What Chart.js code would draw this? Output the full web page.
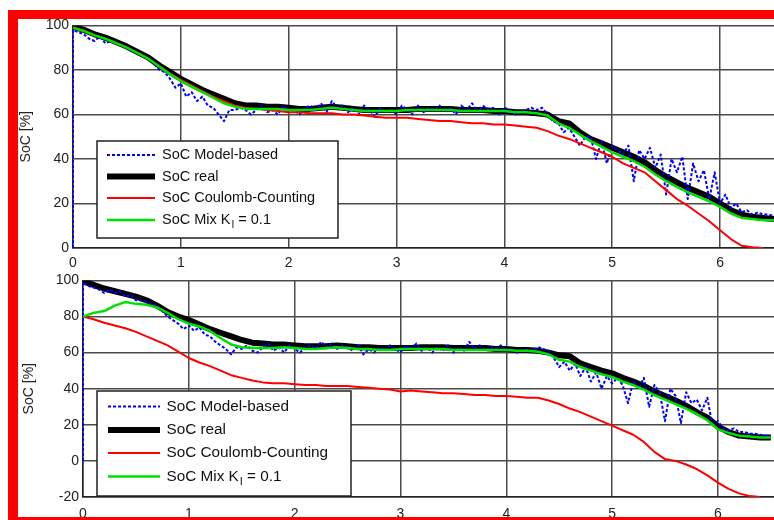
<!DOCTYPE html>
<html lang="en">
<head>
  <meta charset="UTF-8">
  <title>SoC estimation</title>
  <script src="https://cdn.jsdelivr.net/npm/chart.js"></script>
  <style>
    body { margin: 0; width: 774px; height: 520px; background: #fff; position: relative; overflow: hidden; }
    canvas { position: absolute; }
    .red { position: absolute; background: #ff0000; z-index: 5; }
  </style>
</head>
<body>
  <canvas id="socTop" width="756" height="260" style="left:18px; top:13px;"></canvas>
  <canvas id="socBottom" width="756" height="253" style="left:18px; top:268px;"></canvas>
  <div class="red" style="left:8px; top:10px; width:766px; height:9px;"></div>
  <div class="red" style="left:8px; top:10px; width:10px; height:510px;"></div>
  <div class="red" style="left:8px; top:517px; width:766px; height:3px;"></div>

  <script>
    // time axis (coarse for smooth curves, fine for the noisy model-based estimate)
    const tCoarse = [0, 0.1, 0.2, 0.3, 0.4, 0.5, 0.6, 0.7, 0.8, 0.9,
      1.0, 1.1, 1.2, 1.3, 1.4, 1.5, 1.6, 1.7, 1.8, 1.9,
      2.0, 2.1, 2.2, 2.3, 2.4, 2.5, 2.6, 2.7, 2.8, 2.9,
      3.0, 3.1, 3.2, 3.3, 3.4, 3.5, 3.6, 3.7, 3.8, 3.9,
      4.0, 4.1, 4.2, 4.3, 4.4, 4.5, 4.6, 4.7, 4.8, 4.9,
      5.0, 5.1, 5.2, 5.3, 5.4, 5.5, 5.6, 5.7, 5.8, 5.9,
      6.0, 6.1, 6.2, 6.3, 6.4, 6.5];
    const tFine = [0, 0,
      0.05, 0.1, 0.15, 0.2, 0.25, 0.3, 0.35, 0.4, 0.45, 0.5,
      0.55, 0.6, 0.65, 0.7, 0.75, 0.8, 0.85, 0.9, 0.95, 1.0,
      1.05, 1.1, 1.15, 1.2, 1.25, 1.3, 1.35, 1.4, 1.45, 1.5,
      1.55, 1.6, 1.65, 1.7, 1.75, 1.8, 1.85, 1.9, 1.95, 2.0,
      2.05, 2.1, 2.15, 2.2, 2.25, 2.3, 2.35, 2.4, 2.45, 2.5,
      2.55, 2.6, 2.65, 2.7, 2.75, 2.8, 2.85, 2.9, 2.95, 3.0,
      3.05, 3.1, 3.15, 3.2, 3.25, 3.3, 3.35, 3.4, 3.45, 3.5,
      3.55, 3.6, 3.65, 3.7, 3.75, 3.8, 3.85, 3.9, 3.95, 4.0,
      4.05, 4.1, 4.15, 4.2, 4.25, 4.3, 4.35, 4.4, 4.45, 4.5,
      4.55, 4.6, 4.65, 4.7, 4.75, 4.8, 4.85, 4.9, 4.95, 5.0,
      5.05, 5.1, 5.15, 5.2, 5.25, 5.3, 5.35, 5.4, 5.45, 5.5,
      5.55, 5.6, 5.65, 5.7, 5.75, 5.8, 5.85, 5.9, 5.95, 6.0,
      6.05, 6.1, 6.15, 6.2, 6.25, 6.3, 6.35, 6.4, 6.45, 6.5];

    const legendLabels = ['SoC Model-based', 'SoC real', 'SoC Coulomb-Counting', 'SoC Mix K_I = 0.1'];
    const yTicksTop = [0, 20, 40, 60, 80, 100];
    const yTicksBottom = [-20, 0, 20, 40, 60, 80, 100];

    // upper plot: Coulomb counting started with correct SoC
    const modelTop = [0, 98,
      97, 96, 94, 93, 95, 92, 93, 92, 91, 90,
      88, 88, 86, 85, 83, 80, 79, 76, 72, 74,
      68, 70, 66, 68, 64, 63, 60, 57, 62, 62,
      63, 62, 60, 62, 64, 61, 62, 60, 64, 61,
      62, 60, 63, 64, 62, 65, 61, 66, 63, 64,
      61, 63, 60, 64, 62, 59, 63, 61, 62, 60,
      64, 62, 60, 64, 61, 63, 62, 64, 61, 63,
      60, 64, 62, 65, 61, 64, 62, 63, 60, 63,
      62, 60, 61, 62, 63, 62, 63, 60, 57, 56,
      52, 54, 50, 46, 50, 50, 40, 48, 38, 46,
      44, 42, 46, 30, 44, 40, 45, 36, 42, 24,
      40, 34, 41, 22, 38, 30, 35, 22, 34, 20,
      24, 18, 20, 16, 17, 15, 16, 15, 15, 14.5];
    const realTop = [99.5, 98, 96, 94.5, 92.5, 90.5, 88, 85.5, 82, 79,
      76, 73.5, 71, 69, 67, 65, 64, 64, 63.5, 63.5,
      63, 62.5, 62.5, 63, 63.5, 63, 62.5, 62, 62, 62,
      62, 62, 62.5, 62.5, 62.5, 62.5, 62, 62, 62, 61.5,
      61.5, 61, 61, 60.5, 60, 57, 56, 52, 49, 47,
      45, 43, 41, 38.5, 35, 32, 29.5, 27, 25, 23,
      20, 17, 15, 14, 13.5, 13];
    const coulombTop = [99, 97.5, 95.5, 94, 92, 90, 87.5, 85, 81.5, 78.5,
      75.5, 73, 70.5, 68, 66, 64, 63, 62.5, 62, 61.5,
      61, 61, 60.5, 60.5, 60.5, 60, 60, 59.5, 59, 58.5,
      58.5, 58.5, 58, 57.5, 57, 57, 56.5, 56, 56, 55.5,
      55.5, 55, 54.5, 54, 52.5, 50.5, 49, 47, 45, 43,
      41, 38, 36, 34, 30, 26, 22, 19, 15.5, 12,
      8, 4, 1, 0.3, 0, null];
    const mixTop = [99, 97.5, 95.5, 94, 92, 90, 87.5, 85, 81.5, 78,
      75, 72.5, 70, 67.5, 65, 63.5, 62.5, 62.5, 62.5, 62.5,
      62, 62, 62, 62.5, 63, 62.5, 62, 61.5, 61.5, 61.5,
      61.5, 62, 62, 62, 62, 62, 61.5, 61.5, 61.5, 61.5,
      61.5, 61, 61, 60.5, 59.5, 56, 54, 51, 48, 45.5,
      43, 41, 39, 36.5, 33, 30, 27.5, 25, 23, 21,
      18.5, 15.5, 13.5, 13, 12.5, 12.5];

    // lower plot: Coulomb counting and mix started at 80 %
    const modelBottom = [0, 99,
      97, 96, 95, 93, 95, 93, 94, 91, 92, 89,
      89, 88, 87, 86, 83, 80, 78, 76, 73, 75,
      72, 74, 70, 69, 66, 64, 62, 59, 63, 62,
      64, 61, 60, 63, 65, 61, 63, 60, 64, 62,
      60, 63, 64, 62, 66, 63, 65, 62, 64, 63,
      61, 64, 59, 62, 60, 63, 61, 64, 62, 60,
      64, 62, 65, 61, 63, 60, 63, 61, 64, 60,
      63, 61, 66, 62, 64, 61, 63, 62, 64, 61,
      62, 60, 61, 62, 61, 63, 62, 61, 57, 52,
      55, 50, 54, 47, 52, 44, 49, 40, 47, 43,
      46, 42, 32, 44, 40, 46, 30, 42, 38, 22,
      40, 36, 21, 38, 32, 34, 28, 35, 19, 22,
      18, 17, 18, 16, 16, 15, 15, 14.5, 14, 14];
    const realBottom = [99.5, 97.5, 95.5, 94, 92.5, 91, 89, 86, 82.5, 80,
      78, 75.5, 73, 71, 69, 67, 65.5, 65, 64.5, 64.5,
      64, 63.5, 63.5, 63.5, 64, 63.5, 63, 63, 62.5, 62.5,
      62.5, 62.5, 63, 63, 63, 62.5, 62.5, 62.5, 62.5, 62,
      62, 61.5, 61.5, 61, 60, 58.5, 58, 54, 52, 50,
      48.5, 46, 44, 41.5, 38.5, 36, 33.5, 30.5, 27, 24,
      19, 16, 14, 13.5, 13, 13];
    const coulombBottom = [80, 78.5, 76.5, 75, 73.5, 71.5, 69, 66.5, 64, 60.5,
      57, 54.5, 52.5, 50, 47.5, 46, 44.5, 43.5, 43, 43,
      42.5, 42, 42, 41.5, 41.5, 41.5, 41, 40.5, 40, 39.5,
      38.5, 39, 38.5, 38, 37.5, 37.5, 37, 36.5, 36.5, 36,
      36, 35.5, 35, 35, 33.5, 31.5, 29, 27, 24.5, 22,
      19.5, 17, 14.5, 10.5, 5, 1, 0, -2, -4.5, -8,
      -12, -15.5, -18, -19.5, -20, null];
    const mixBottom = [80, 82, 83, 86, 88, 87, 86.5, 85, 82, 78.5,
      76, 74.5, 72, 68, 64.5, 63, 62.5, 62.5, 62.5, 63,
      62.5, 62, 62, 62.5, 63, 62.5, 62, 62, 61.5, 61.5,
      62, 62, 62, 62, 62, 61.5, 61.5, 61.5, 61.5, 61.5,
      61.5, 61, 61, 60.5, 59, 56, 55, 52, 50, 48,
      46.5, 44, 42, 39.5, 36.5, 34, 31.5, 29, 26, 22.5,
      17.5, 15.5, 14, 13.5, 13, 13];

    const FONT = "'Liberation Sans', Arial, sans-serif";

    function pts(ts, vs) {
      return ts.map((t, i) => ({ x: t, y: vs[i] }));
    }

    // legend drawn inside the plot area, MATLAB style
    const boxLegend = {
      id: 'boxLegend',
      afterDraw(chart, args, o) {
        const ctx = chart.ctx;
        ctx.save();
        ctx.fillStyle = '#fff';
        ctx.fillRect(o.x, o.y, o.w, o.h);
        ctx.strokeStyle = '#222';
        ctx.lineWidth = 1.5;
        ctx.strokeRect(o.x, o.y, o.w, o.h);
        chart.data.datasets.forEach((ds, i) => {
          const y = o.rows[i];
          ctx.beginPath();
          ctx.strokeStyle = ds.borderColor;
          ctx.lineWidth = ds.borderWidth;
          ctx.setLineDash(ds.borderDash || []);
          ctx.moveTo(o.x1, y);
          ctx.lineTo(o.x2, y);
          ctx.stroke();
          ctx.setLineDash([]);
          ctx.fillStyle = '#111';
          ctx.textBaseline = 'middle';
          ctx.font = o.size + 'px ' + FONT;
          const parts = legendLabels[i].split(/_(\w)/);
          let x = o.tx;
          ctx.fillText(parts[0], x, y);
          x += ctx.measureText(parts[0]).width;
          if (parts.length > 1) {
            ctx.font = Math.round(o.size * 0.7) + 'px ' + FONT;
            ctx.fillText(parts[1], x + 1, y + 5);
            x += ctx.measureText(parts[1]).width + 1;
            ctx.font = o.size + 'px ' + FONT;
            ctx.fillText(parts[2], x, y);
          }
        });
        ctx.restore();
      }
    };

    function makeChart(id, series, cfg) {
      const ctx = document.getElementById(id).getContext('2d');
      return new Chart(ctx, {
        type: 'line',
        data: {
          datasets: [
            { data: pts(tFine, series.model), borderColor: '#0000ff', borderWidth: 2, borderDash: [3, 2], order: 2, clip: 3 },
            { data: pts(tCoarse, series.real), borderColor: '#000000', borderWidth: 6, order: 3 },
            { data: pts(tCoarse, series.coulomb), borderColor: '#ff0000', borderWidth: 2, order: 1 },
            { data: pts(tCoarse, series.mix), borderColor: '#00e000', borderWidth: 2.5, order: 0 }
          ]
        },
        options: {
          responsive: false,
          animation: false,
          devicePixelRatio: 1,
          layout: { padding: { top: 10, right: 0, bottom: 0, left: 0 } },
          elements: { point: { radius: 0 }, line: { tension: 0, borderJoinStyle: 'round' } },
          plugins: {
            legend: { display: false },
            tooltip: { enabled: false },
            boxLegend: cfg.legend
          },
          scales: {
            x: {
              type: 'linear',
              min: 0,
              max: cfg.xMax,
              afterBuildTicks: s => { s.ticks = [0, 1, 2, 3, 4, 5, 6].map(v => ({ value: v })); },
              afterFit: s => { s.height = cfg.xHeight; },
              grid: { color: '#4a4a4a', lineWidth: 1.5, drawTicks: false },
              border: { display: true, color: '#222', width: 1.5 },
              ticks: { padding: cfg.xPad, color: '#222', font: { family: FONT, size: 14 }, maxRotation: 0 }
            },
            y: {
              min: cfg.yTicks[0],
              max: cfg.yTicks[cfg.yTicks.length - 1],
              afterBuildTicks: s => { s.ticks = cfg.yTicks.map(v => ({ value: v })); },
              afterFit: s => { s.width = cfg.yWidth; },
              grid: { color: '#4a4a4a', lineWidth: 1.5, drawTicks: false },
              border: { display: true, color: '#222', width: 1.5 },
              ticks: { padding: 4, color: '#222', font: { family: FONT, size: 14 } },
              title: { display: true, text: 'SoC [%]', color: '#222', font: { family: FONT, size: 14 }, padding: { top: cfg.titlePad, bottom: 0 } }
            }
          }
        },
        plugins: [boxLegend]
      });
    }

    makeChart('socTop',
      { model: modelTop, real: realTop, coulomb: coulombTop, mix: mixTop },
      {
        xMax: 6.5, xHeight: 25, xPad: 7, yWidth: 55, titlePad: 0, yTicks: yTicksTop,
        legend: { x: 79, y: 128, w: 241, h: 97, rows: [142, 163.5, 185, 207], x1: 89, x2: 137, tx: 144, size: 14.5 }
      });

    makeChart('socBottom',
      { model: modelBottom, real: realBottom, coulomb: coulombBottom, mix: mixBottom },
      {
        xMax: 6.53, xHeight: 24, xPad: 9, yWidth: 65, titlePad: 3, yTicks: yTicksBottom,
        legend: { x: 79, y: 123, w: 254, h: 105, rows: [138.5, 162, 185, 208.5], x1: 90, x2: 142, tx: 148.5, size: 15.3 }
      });
  </script>
</body>
</html>
